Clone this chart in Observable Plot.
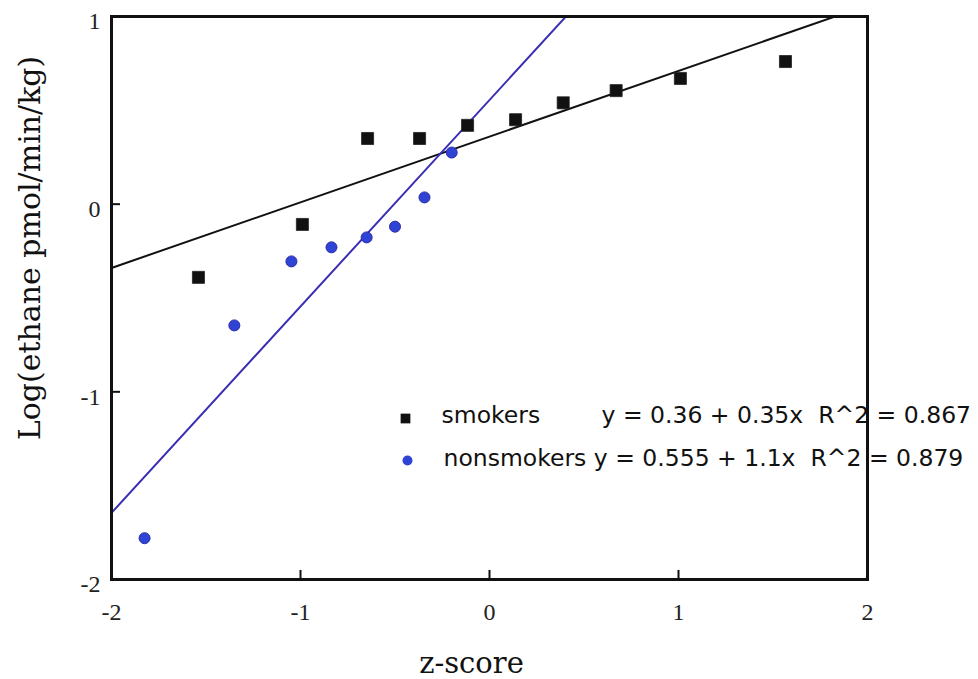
<!DOCTYPE html>
<html>
<head>
<meta charset="utf-8">
<script src="https://cdn.jsdelivr.net/npm/d3@7"></script>
<script src="https://cdn.jsdelivr.net/npm/@observablehq/plot@0.6"></script>
<style>
  html, body { margin: 0; padding: 0; background: #fff; }
  #chart svg { display: block; background: #fff; }
</style>
</head>
<body>
<div id="chart"></div>
<script>
// Normal-probability plot of breath ethane: z-score vs log ethane output
const smokersZ = [-1.54, -0.99, -0.645, -0.37, -0.116, 0.138, 0.39, 0.67, 1.01, 1.566];
const smokersLog = [-0.39, -0.108, 0.35, 0.35, 0.42, 0.45, 0.54, 0.605, 0.67, 0.76];
const nonsmokersZ = [-1.825, -1.35, -1.048, -0.836, -0.65, -0.50, -0.344, -0.20];
const nonsmokersLog = [-1.78, -0.646, -0.305, -0.23, -0.177, -0.12, 0.036, 0.275];

// Least-squares fits reported for each group
const groups = ["smokers", "nonsmokers"];
const intercepts = [0.36, 0.555];
const slopes = [0.35, 1.1];
const rSquared = [0.867, 0.879];

const xDomain = [-2, 2];
const yDomain = [-2, 1];
const xTicks = [-2, -1, 0, 1, 2];
const yTicks = [-2, -1, 0, 1];

const width = 978, height = 679;
const margin = {top: 16, right: 111, bottom: 100, left: 111};
const plotW = width - margin.left - margin.right;
const plotH = height - margin.top - margin.bottom;

const smokers = smokersZ.map((z, i) => ({z, v: smokersLog[i]}));
const nonsmokers = nonsmokersZ.map((z, i) => ({z, v: nonsmokersLog[i]}));
const fits = groups.map((g, i) => xDomain.map(z => ({z, v: intercepts[i] + slopes[i] * z})));

const eq = i => `y = ${intercepts[i]} + ${slopes[i]}x\u00a0 R^2 = ${rSquared[i]}`;

const blueLine = "#3a2fb3";
const blueDot = "#2f44d4";
const sans = "DejaVu Sans";
const serif = "DejaVu Serif";
const tickFont = "Liberation Serif";
const tickSize = 24;
const legendSize = 23.5;

const chart = Plot.plot({
  width, height,
  marginTop: margin.top, marginRight: margin.right,
  marginBottom: margin.bottom, marginLeft: margin.left,
  style: {fontFamily: tickFont, fontSize: "22px", color: "#222", background: "#fff"},
  x: {domain: xDomain, axis: null},
  y: {domain: yDomain, axis: null},
  marks: [
    // tick labels
    Plot.text(xTicks, {x: d => d, text: d => String(d), frameAnchor: "bottom", dy: 33, lineAnchor: "middle", fontFamily: tickFont, fontSize: tickSize, fill: "#222"}),
    Plot.text(yTicks, {y: d => d, text: d => String(d), frameAnchor: "left", dx: -11, dy: 5, textAnchor: "end", lineAnchor: "middle", fontFamily: tickFont, fontSize: tickSize, fill: "#222"}),
    // inward tick marks
    Plot.tickY(yTicks, {y: d => d, insetRight: plotW - 9, stroke: "#111", strokeWidth: 2}),
    Plot.tickX(xTicks, {x: d => d, insetTop: plotH - 9, stroke: "#111", strokeWidth: 2}),
    // fitted lines
    Plot.line(fits[0], {x: "z", y: "v", stroke: "#111", strokeWidth: 2, clip: true}),
    Plot.line(fits[1], {x: "z", y: "v", stroke: blueLine, strokeWidth: 2, clip: true}),
    // observations
    Plot.dot(smokers, {x: "z", y: "v", symbol: "square", r: 6.8, fill: "#111", stroke: "#222", strokeWidth: 0.8}),
    Plot.dot(nonsmokers, {x: "z", y: "v", r: 5.5, fill: blueDot, stroke: "#2a2aa8", strokeWidth: 1}),
    // legend
    Plot.dot([groups[0]], {frameAnchor: "top-left", dx: 294, dy: 402, symbol: "square", r: 5.5, fill: "#111"}),
    Plot.dot([groups[1]], {frameAnchor: "top-left", dx: 296, dy: 444, r: 5, fill: blueDot}),
    Plot.text([groups[0]], {text: d => d, frameAnchor: "top-left", dx: 330, dy: 399, textAnchor: "start", lineAnchor: "middle", fontFamily: sans, fontSize: legendSize, fill: "#111"}),
    Plot.text([eq(0)], {text: d => d, frameAnchor: "top-left", dx: 490, dy: 399, textAnchor: "start", lineAnchor: "middle", fontFamily: sans, fontSize: legendSize, fill: "#111"}),
    Plot.text([`${groups[1]} ${eq(1)}`], {text: d => d, frameAnchor: "top-left", dx: 332, dy: 442, textAnchor: "start", lineAnchor: "middle", fontFamily: sans, fontSize: legendSize, fill: "#111"}),
    // axis titles
    Plot.text(["z-score"], {text: d => d, frameAnchor: "bottom", dx: -18, dy: 84, textAnchor: "middle", lineAnchor: "middle", fontFamily: serif, fontSize: 29, fill: "#111"}),
    Plot.text(["Log(ethane pmol/min/kg)"], {text: d => d, frameAnchor: "left", dx: -81, dy: -50, rotate: -90, textAnchor: "middle", lineAnchor: "middle", fontFamily: serif, fontSize: 30, fill: "#111"}),
    Plot.frame({stroke: "#111", strokeWidth: 3})
  ]
});

document.getElementById("chart").appendChild(chart);
</script>
</body>
</html>
